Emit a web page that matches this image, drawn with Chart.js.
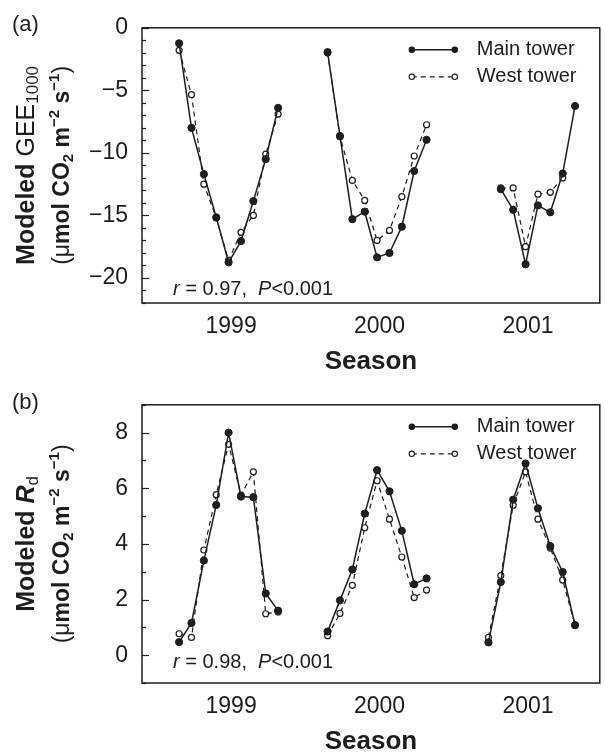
<!DOCTYPE html>
<html>
<head>
<meta charset="utf-8">
<script src="https://cdn.jsdelivr.net/npm/chart.js@4"></script>
<style>
  body { margin: 0; background: #fff; }
  canvas { position: absolute; left: 0; }
  #geeChart { top: 0; }
  #rdChart { top: 377px; }
</style>
</head>
<body>
<canvas id="geeChart" width="605" height="377"></canvas>
<canvas id="rdChart" width="605" height="377"></canvas>
<script>
// x is months counted from Jan 1999; a jump of more than one month starts a new season
const seasonYears = ['1999', '2000', '2001'];
const seasonLabelMonth = [7.2, 19.2, 31.2];
const sampleMonths = [3, 4, 5, 6, 7, 8, 9, 10, 11,
                      15, 16, 17, 18, 19, 20, 21, 22, 23,
                      28, 29, 30, 31, 32, 33, 34, 35];

// modeled GEE at 1000 umol PAR
const geeMain = [-1.24, -8.0, -11.7, -15.15, -18.75, -17.05, -13.85, -10.5, -6.4,
                 -1.95, -8.65, -15.3, -14.7, -18.35, -18.0, -15.9, -11.45, -8.95,
                 null, -12.9, -14.55, -18.9, -14.2, -14.75, -11.65, -6.25];
const geeWest = [-1.8, -5.35, -12.5, -15.2, -18.6, -16.35, -15.0, -10.1, -6.9,
                 -2.0, -8.7, -12.2, -13.8, -17.0, -16.2, -13.5, -10.25, -7.75,
                 null, -12.8, -12.8, -17.5, -13.3, -13.15, -12.0, null];

// modeled dark respiration
const rdMain = [0.47, 1.16, 3.4, 5.4, 8.0, 5.7, 5.68, 2.22, 1.6,
                0.85, 1.97, 3.08, 5.09, 6.65, 5.89, 4.47, 2.55, 2.76,
                0.46, 2.63, 5.59, 6.89, 5.28, 3.92, 2.99, 1.08];
const rdWest = [0.77, 0.64, 3.78, 5.77, 7.58, 5.75, 6.59, 1.49, 1.55,
                0.7, 1.5, 2.51, 4.58, 6.27, 4.89, 3.53, 2.07, 2.34,
                0.64, 2.86, 5.39, 6.59, 4.89, 3.85, 2.7, 1.08];

const geeTicks = [-20, -15, -10, -5, 0];
const rdTicks = [0, 2, 4, 6, 8];

const ink = '#1e1e1e';
const FONT = '"Liberation Sans", Arial, Helvetica, sans-serif';
const f = (style, size) => `${style} ${size}px ${FONT}`;

Chart.defaults.font.family = FONT;
Chart.defaults.color = ink;

function toPoints(values) {
  const pts = [];
  sampleMonths.forEach((m, i) => {
    if (i > 0 && m - sampleMonths[i - 1] > 1) pts.push({ x: m - 0.5, y: null });
    pts.push({ x: m, y: values[i] });
  });
  return pts;
}

// text made of pieces with their own font and baseline shift (sub/superscripts)
function drawRuns(ctx, runs, x, y, center) {
  let w = 0;
  runs.forEach(r => { ctx.font = r.font; w += ctx.measureText(r.t).width; });
  let cx = center ? x - w / 2 : x;
  ctx.textAlign = 'left';
  ctx.textBaseline = 'middle';
  runs.forEach(r => {
    ctx.font = r.font;
    ctx.fillText(r.t, cx, y + (r.dy || 0));
    cx += ctx.measureText(r.t).width;
  });
}

const frame = {
  id: 'frame',
  afterDraw(chart, args, opts) {
    const { ctx, chartArea: a, scales: { y } } = chart;
    ctx.save();
    ctx.strokeStyle = ink;
    ctx.fillStyle = ink;

    // box
    ctx.lineWidth = 1.5;
    ctx.strokeRect(a.left, a.top, a.right - a.left, a.bottom - a.top);

    // inward y ticks
    ctx.lineWidth = 1.2;
    for (let v = Math.ceil(y.min); v <= y.max; v += opts.minorStep) {
      const py = Math.round(y.getPixelForValue(v)) + 0.5;
      const len = opts.majors.includes(v) ? 7 : 4;
      ctx.beginPath();
      ctx.moveTo(a.left, py);
      ctx.lineTo(a.left + len, py);
      ctx.stroke();
    }

    // legend: marker - line - marker, then name
    chart.data.datasets.forEach((ds, i) => {
      const ly = a.top + 22 + i * 27;
      const x1 = a.right - 188, x2 = a.right - 145;
      ctx.lineWidth = ds.borderWidth;
      ctx.setLineDash(ds.borderDash || []);
      ctx.beginPath();
      ctx.moveTo(x1, ly);
      ctx.lineTo(x2, ly);
      ctx.stroke();
      ctx.setLineDash([]);
      [x1, x2].forEach(mx => {
        ctx.beginPath();
        ctx.arc(mx, ly, 2.7, 0, Math.PI * 2);
        ctx.fillStyle = ds.pointBackgroundColor;
        ctx.fill();
        ctx.lineWidth = 1.1;
        ctx.stroke();
      });
      ctx.fillStyle = ink;
      ctx.font = f('', 20);
      ctx.textAlign = 'left';
      ctx.textBaseline = 'middle';
      ctx.fillText(ds.label, a.right - 123, ly);
    });

    // correlation note
    drawRuns(ctx, [
      { t: 'r', font: f('italic', 20) },
      { t: ' = ' + opts.r + ',  ', font: f('', 20) },
      { t: 'P', font: f('italic', 20) },
      { t: '<0.001', font: f('', 20) }
    ], a.left + 31, a.bottom - opts.noteOffset, false);

    // panel letter
    ctx.font = f('', 22);
    ctx.textAlign = 'left';
    ctx.textBaseline = 'middle';
    ctx.fillText(opts.letter, 12, opts.letterY);

    // y axis title, two rotated lines
    const cy = (a.top + a.bottom) / 2;
    ctx.save();
    ctx.translate(27, cy);
    ctx.rotate(-Math.PI / 2);
    drawRuns(ctx, opts.title1, 0, 0, true);
    ctx.restore();
    ctx.save();
    ctx.translate(63, cy);
    ctx.rotate(-Math.PI / 2);
    drawRuns(ctx, [
      { t: '(', font: f('', 23) },
      { t: 'μ', font: f('', 23) },
      { t: 'mol CO', font: f('bold', 23) },
      { t: '2', font: f('bold', 15), dy: 6 },
      { t: ' m', font: f('bold', 23) },
      { t: '−2', font: f('bold', 15), dy: -8 },
      { t: ' s', font: f('bold', 23) },
      { t: '−1', font: f('bold', 15), dy: -8 },
      { t: ')', font: f('', 23) }
    ], 0, 0, true);
    ctx.restore();

    ctx.restore();
  }
};

function panel(id, cfg) {
  return new Chart(document.getElementById(id), {
    type: 'line',
    data: {
      datasets: [
        {
          label: 'Main tower', data: toPoints(cfg.main),
          borderColor: ink, borderWidth: 1.5,
          pointRadius: 3.6, pointBackgroundColor: ink, pointBorderColor: ink, pointBorderWidth: 1
        },
        {
          label: 'West tower', data: toPoints(cfg.west),
          borderColor: ink, borderWidth: 1.2, borderDash: [5, 4],
          pointRadius: 3, pointBackgroundColor: '#fff', pointBorderColor: ink, pointBorderWidth: 1.2
        }
      ]
    },
    options: {
      responsive: false,
      animation: false,
      devicePixelRatio: 1,
      spanGaps: false,
      layout: { padding: { top: cfg.top, right: 2, left: 0, bottom: 0 } },
      elements: { line: { tension: 0 } },
      plugins: {
        legend: { display: false },
        tooltip: { enabled: false },
        frame: cfg.frame
      },
      scales: {
        x: {
          type: 'linear', min: 0, max: 37,
          grid: { display: false, drawTicks: false },
          border: { display: false },
          afterBuildTicks: s => { s.ticks = seasonLabelMonth.map(v => ({ value: v })); },
          afterFit: s => { s.height = cfg.xHeight; },
          ticks: {
            callback: (v, i) => seasonYears[i],
            font: { size: 23 }, color: ink, padding: 10,
            maxRotation: 0, autoSkip: false
          },
          title: {
            display: true, text: 'Season', color: ink,
            font: { size: 26, weight: 'bold', lineHeight: 0.9 },
            padding: { top: 0, bottom: cfg.titlePad }
          }
        },
        y: {
          min: cfg.min, max: cfg.max,
          grid: { display: false, drawTicks: false },
          border: { display: false },
          afterBuildTicks: s => { s.ticks = cfg.ticks.map(v => ({ value: v })); },
          afterFit: s => { s.width = 142; },
          ticks: {
            callback: v => String(v).replace('-', '\u2212'),
            font: { size: 23 }, color: ink, padding: 14
          }
        }
      }
    },
    plugins: [frame]
  });
}

panel('geeChart', {
  main: geeMain, west: geeWest, min: -22, max: 0, ticks: geeTicks,
  top: 18, xHeight: 74, titlePad: 3,
  frame: {
    minorStep: 1, majors: geeTicks, r: '0.97', noteOffset: 14,
    letter: '(a)', letterY: 25,
    title1: [
      { t: 'Modeled ', font: f('bold', 25) },
      { t: 'GEE', font: f('', 25) },
      { t: '1000', font: f('', 17), dy: 6 }
    ]
  }
});

panel('rdChart', {
  main: rdMain, west: rdWest, min: -1, max: 9, ticks: rdTicks,
  top: 21, xHeight: 71, titlePad: 0,
  frame: {
    minorStep: 1, majors: rdTicks, r: '0.98', noteOffset: 21,
    letter: '(b)', letterY: 26,
    title1: [
      { t: 'Modeled ', font: f('bold', 25) },
      { t: 'R', font: f('italic bold', 25) },
      { t: 'd', font: f('', 17), dy: 6 }
    ]
  }
});
</script>
</body>
</html>
